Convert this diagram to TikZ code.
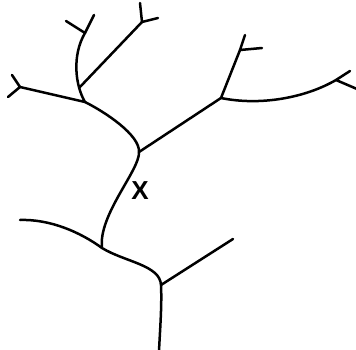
\documentclass[tikz,border=0pt]{standalone}
\usepackage{fontspec}
\setmainfont{Liberation Sans}
\begin{document}
\begin{tikzpicture}[x=1pt,y=-1pt,
  branch/.style={line width=2.5pt,line cap=round,line join=round,black},
  lbl/.style={font=\fontsize{26}{26}\selectfont\bfseries,inner sep=0pt}]
\useasboundingbox (0,0) rectangle (356,350);
% junctions
\coordinate (A) at (85,102);
\coordinate (B) at (139,152);
\coordinate (C) at (221,98);
\coordinate (D) at (102,248);
\coordinate (E) at (161,285);
\coordinate (J) at (79,88);
\coordinate (F1) at (85,33);
\coordinate (F2) at (142,22);
\coordinate (F3) at (240,50);
\coordinate (F4) at (336,80);
\coordinate (L1) at (20,87);
% tips
\coordinate (F1a) at (66,21);
\coordinate (F1b) at (94,15);
\coordinate (F2a) at (140,3);
\coordinate (F2b) at (158,18);
\coordinate (F3a) at (245,35);
\coordinate (F3b) at (262,48);
\coordinate (F4a) at (350,71);
\coordinate (F4b) at (357,89);
\coordinate (L1a) at (12,75);
\coordinate (L1b) at (8,97);
\coordinate (G) at (20,220);
\coordinate (H) at (233,239);
\coordinate (R) at (159,351);
% main trunk
\draw[branch] (R) .. controls (160,330) and (162,305) .. (E)
  .. controls (160,265) and (125,262) .. (D)
  .. controls (98,215) and (140,170) .. (B)
  .. controls (140,135) and (105,112) .. (A)
  .. controls (75,85) and (72,55) .. (F1);
% side branches
\draw[branch] (J) -- (F2);
\draw[branch] (A) -- (L1);
\draw[branch] (B) -- (C);
\draw[branch] (C) -- (F3);
\draw[branch] (C) .. controls (260,106) and (305,98) .. (F4);
\draw[branch] (G) .. controls (50,219) and (80,232) .. (D);
\draw[branch] (E) -- (H);
% forks
\draw[branch] (F1a) -- (F1) -- (F1b);
\draw[branch] (F2a) -- (F2) -- (F2b);
\draw[branch] (F3a) -- (F3) -- (F3b);
\draw[branch] (F4a) -- (F4) -- (F4b);
\draw[branch] (L1a) -- (L1) -- (L1b);
\node[lbl] (X) at (140,190.5) {X};
\end{tikzpicture}
\end{document}
